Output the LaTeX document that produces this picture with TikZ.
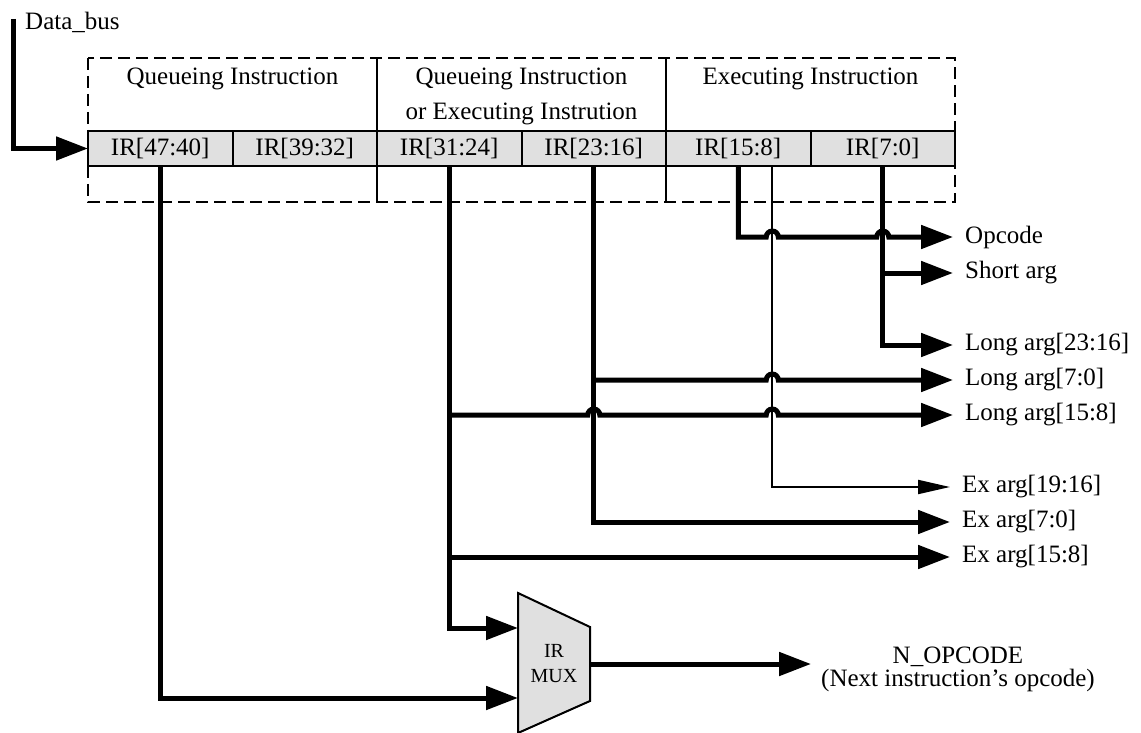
\documentclass[tikz,border=0pt]{standalone}
\usepackage{fontspec}
\setmainfont{Liberation Serif}
\usetikzlibrary{arrows.meta,positioning}

\begin{document}
\begin{tikzpicture}[x=1pt, y=-1pt, font=\fontsize{25}{35}\selectfont, node distance=0pt,
  reg/.style={draw, line width=2pt, fill=black!12, minimum width=144.5pt, minimum height=35pt, inner sep=0pt, outer sep=0pt},
  bus/.style={line width=5pt, -{Triangle[length=32pt,width=23pt]}},
  fine/.style={line width=2pt, -{Triangle[length=32pt,width=14pt]}},
  wire/.style={line width=2pt},
  lbl/.style={anchor=west, inner xsep=12pt, inner ysep=0pt},
  hdr/.style={align=center, inner sep=0pt}]
\useasboundingbox (0,0) rectangle (1141,733);
\draw[wire, dash pattern=on 12pt off 6pt] (88,58) rectangle (955,202);
\node[reg] (r4740) at (160.25,148.5) {IR[47:40]}; \node[reg,right=of r4740] (r3932) {IR[39:32]};
\node[reg,right=of r3932] (r3124) {IR[31:24]}; \node[reg,right=of r3124] (r2316) {IR[23:16]};
\node[reg,right=of r2316] (r1508) {IR[15:8]}; \node[reg,right=of r1508] (r70) {IR[7:0]};
\draw[wire] ([yshift=73pt]r3124.north west) -- ([yshift=-36pt]r3124.south west);
\draw[wire] ([yshift=73pt]r1508.north west) -- ([yshift=-36pt]r1508.south west);
\node[hdr] (hq) at ([yshift=52pt]r4740.north east) {Queueing Instruction};
\node[hdr] (hqe) at ([yshift=34.5pt]r3124.north east) {Queueing Instruction\\or Executing Instrution};
\node[hdr] (he) at ([yshift=52pt]r1508.north east) {Executing Instruction};
\node[anchor=base west, inner sep=0pt] (dbus) at (25,30) {Data\_bus};
\coordinate (dtop) at (13,19);
\draw[bus] (dtop) |- (r4740.west);
\node[lbl] (opc) at (953,237) {Opcode}; \node[lbl] (sarg) at (953,273) {Short arg};
\node[lbl] (la2316) at (953,345) {Long arg[23:16]}; \node[lbl] (la70) at (953,380) {Long arg[7:0]};
\node[lbl] (la158) at (953,415) {Long arg[15:8]}; \node[lbl] (ex1916) at (950,487) {Ex arg[19:16]};
\node[lbl] (ex70) at (950,522) {Ex arg[7:0]}; \node[lbl] (ex158) at (950,557) {Ex arg[15:8]};
\draw[wire, fill=black!12] (518,593) -- (590,627) -- (590,701) -- (518,733) -- cycle;
\node[align=center, inner sep=0pt, font=\fontsize{20}{25}\selectfont] (mux) at (554,664) {IR\\MUX};
\coordinate (in1) at (518,628); \coordinate (in2) at (518,698); \coordinate (muxo) at (590,664);
\node[align=center, inner xsep=10pt, inner ysep=0pt, font=\fontsize{25}{23}\selectfont] (nop) at (958,669) {N\_OPCODE\\(Next instruction's opcode)};
\draw[bus] (r1508.south) |- (766.25,237) arc[start angle=180,end angle=0,radius=6pt] -- (876.75,237) arc[start angle=180,end angle=0,radius=6pt] -- (opc.west);
\draw[bus] (r70.south) |- (la2316.west); \draw[bus] (r70.south |- sarg.west) -- (sarg.west);
\draw[fine] ([xshift=34pt]r1508.south) |- (ex1916.west);
\draw[bus] (r2316.south) |- (ex70.west);
\draw[bus] (r2316.south |- la70.west) -- (766.25,380) arc[start angle=180,end angle=0,radius=6pt] -- (la70.west);
\draw[bus] (r3124.south) |- (in1);
\draw[bus] (r3124.south |- la158.west) -- (587.75,415) arc[start angle=180,end angle=0,radius=6pt] -- (766.25,415) arc[start angle=180,end angle=0,radius=6pt] -- (la158.west);
\draw[bus] (r3124.south |- ex158.west) -- (ex158.west);
\draw[bus] (r4740.south) |- (in2);
\draw[bus] (muxo) -- (muxo -| nop.west);
\end{tikzpicture}
\end{document}
